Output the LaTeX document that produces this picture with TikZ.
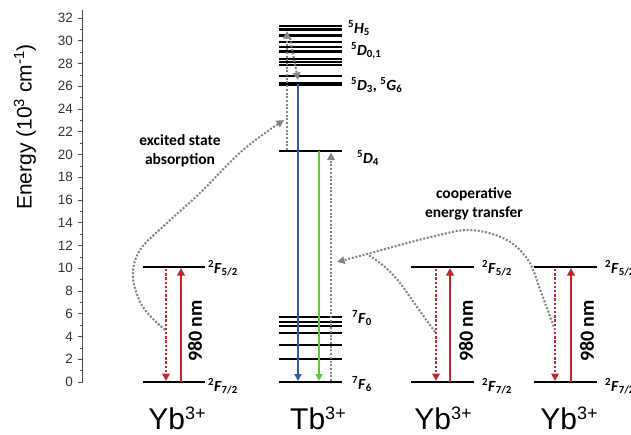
\documentclass[tikz,border=0pt]{standalone}
\usepackage{fontspec}
\setmainfont{Liberation Sans}
\newfontfamily\calib{Carlito}
\usetikzlibrary{arrows.meta}
\definecolor{ybred}{RGB}{196,38,45}
\definecolor{tbblue}{RGB}{58,86,168}
\definecolor{tbgreen}{RGB}{110,192,66}
\definecolor{dotgray}{RGB}{132,132,132}
\newcommand\lvl[3]{\textsuperscript{#1}\textit{#2}\textsubscript{#3}}
\newcommand\ionlab[2]{#1\raisebox{10pt}{\fontsize{18}{18}\selectfont #2}}
\begin{document}
\begin{tikzpicture}[x=1pt,y=-1pt,
  lev/.style={line width=2.5pt},
  levthick/.style={line width=4pt},
  bluearr/.style={draw=tbblue,line width=2.2pt,-{Triangle[length=7pt,width=7pt]}},
  greenarr/.style={draw=tbgreen,line width=2.2pt,-{Triangle[length=7pt,width=7pt]}},
  redarr/.style={draw=ybred,line width=2.5pt,-{Triangle[length=7.5pt,width=7.5pt]}},
  reddot/.style={draw=ybred,line width=2.7pt,dash pattern=on 2.4pt off 1.8pt,-{Triangle[length=7.5pt,width=7.5pt]}},
  graydot/.style={draw=dotgray,line width=2.1pt,dash pattern=on 2pt off 1.7pt},
  graytip/.style={-{Triangle[length=7.5pt,width=7.5pt]}},
  statelbl/.style={font=\calib\bfseries\fontsize{15.5}{18}\selectfont,anchor=base west,inner sep=0pt},
  nmlbl/.style={font=\calib\bfseries\fontsize{20}{22}\selectfont,rotate=90,inner sep=0pt},
  ionlbl/.style={font=\fontsize{30}{34}\selectfont,anchor=base,inner sep=0pt},
  note/.style={font=\calib\bfseries\fontsize{15.5}{18.5}\selectfont,align=center,inner sep=0pt},
  ticklbl/.style={font=\fontsize{13.5}{15}\selectfont,anchor=east,inner sep=0pt,text=black!80}
]
\useasboundingbox (0,0) rectangle (631,434);

% ---------- axis ----------
\coordinate (axtop) at (82,10);
\coordinate (axbot) at (82,383);
\draw[line width=0.8pt,black!70] (axtop) -- (axbot);
\foreach \e in {0,2,...,32}{
  \pgfmathsetmacro\yy{382-11.375*\e}
  \draw[line width=0.8pt,black!70] (77.5,\yy) -- (82,\yy);
  \node[ticklbl] (t\e) at (73,\yy) {\e};
}
\foreach \e in {1,3,...,31}{
  \pgfmathsetmacro\yy{382-11.375*\e}
  \draw[line width=0.6pt,black!70] (79.5,\yy) -- (82,\yy);
}
\node[rotate=90,font=\fontsize{21}{24}\selectfont] (ylab) at (25,127)
  {Energy (10\textsuperscript{3} cm\textsuperscript{-1})};

% ---------- Tb levels ----------
\foreach \y in {382,359,345,333,326,322,317,151,76,65,62,59,51.5,47,42,35.5,29.5,26}{
  \draw[lev] (279,\y) -- (342,\y);
}
\draw[levthick] (279,84) -- (342,84);

\node[statelbl] (lH5) at (348,33) {\lvl{5}{H}{5}};
\node[statelbl] (lD01) at (351,55) {\lvl{5}{D}{0,1}};
\node[statelbl] (lD3) at (351,90) {\lvl{5}{D}{3}, \lvl{5}{G}{6}};
\node[statelbl] (lD4) at (357,163) {\lvl{5}{D}{4}};
\node[statelbl] (lF0) at (352,323) {\lvl{7}{F}{0}};
\node[statelbl] (lF6) at (352,389) {\lvl{7}{F}{6}};

% Tb transitions
\coordinate (bS) at (298,84);  \coordinate (bE) at (298,381);
\coordinate (gS) at (319,151); \coordinate (gE) at (319,381);
\draw[bluearr] (bS) -- (bE);
\draw[greenarr] (gS) -- (gE);
\coordinate (u1S) at (331,381); \coordinate (u1E) at (331,152.5);
\draw[graydot,graytip] (u1S) -- (u1E);
\coordinate (u2S) at (287,150); \coordinate (u2E) at (287,31);
\draw[graydot,graytip] (u2S) -- (u2E);
\coordinate (rS) at (290,38); \coordinate (rE) at (298,80);
\draw[graydot,graytip] (rS) -- (rE);

\node[ionlbl] (tb) at (318,429) {\ionlab{Tb}{3+}};

% ---------- Yb ions ----------
\foreach \nm/\xa/\xb/\xd/\xs/\xl/\xn/\xc in {A/143/205/166/181/208/195/177, B/411/474/436/450/482/466/443, C/534/597/555/571/605/587/569}{
  \draw[lev] (\xa,267) -- (\xb,267);
  \draw[lev] (\xa,382) -- (\xb,382);
  \coordinate (d\nm S) at (\xd,269); \coordinate (d\nm E) at (\xd,381);
  \coordinate (s\nm S) at (\xs,382); \coordinate (s\nm E) at (\xs,268);
  \draw[reddot] (d\nm S) -- (d\nm E);
  \draw[redarr] (s\nm S) -- (s\nm E);
  \node[statelbl] (up\nm) at (\xl,273) {\lvl{2}{F}{5/2}};
  \node[statelbl] (lo\nm) at (\xl,391) {\lvl{2}{F}{7/2}};
  \node[nmlbl] (nm\nm) at (\xn,331) {980 nm};
  \node[ionlbl] (yb\nm) at (\xc,429) {\ionlab{Yb}{3+}};
}

% ---------- energy-transfer curves ----------
\draw[graydot,graytip] plot[smooth,tension=0.6] coordinates
  {(165,330) (143,307) (133,277) (140,250) (167,223) (200,193) (243,150) (284,120)};
\draw[graydot,graytip] plot[smooth,tension=0.6] coordinates
  {(555,330) (541,292) (528,260) (505,239) (470,230) (435,236) (400,245) (367,254) (337,262)};
\draw[graydot] plot[smooth,tension=0.6] coordinates
  {(435,332) (417,307) (400,283) (385,267) (367,254)};

\node[note] (esa) at (180,151) {excited state\\absorption};
\node[note] (cet) at (474,204) {cooperative\\energy transfer};
\end{tikzpicture}
\end{document}
